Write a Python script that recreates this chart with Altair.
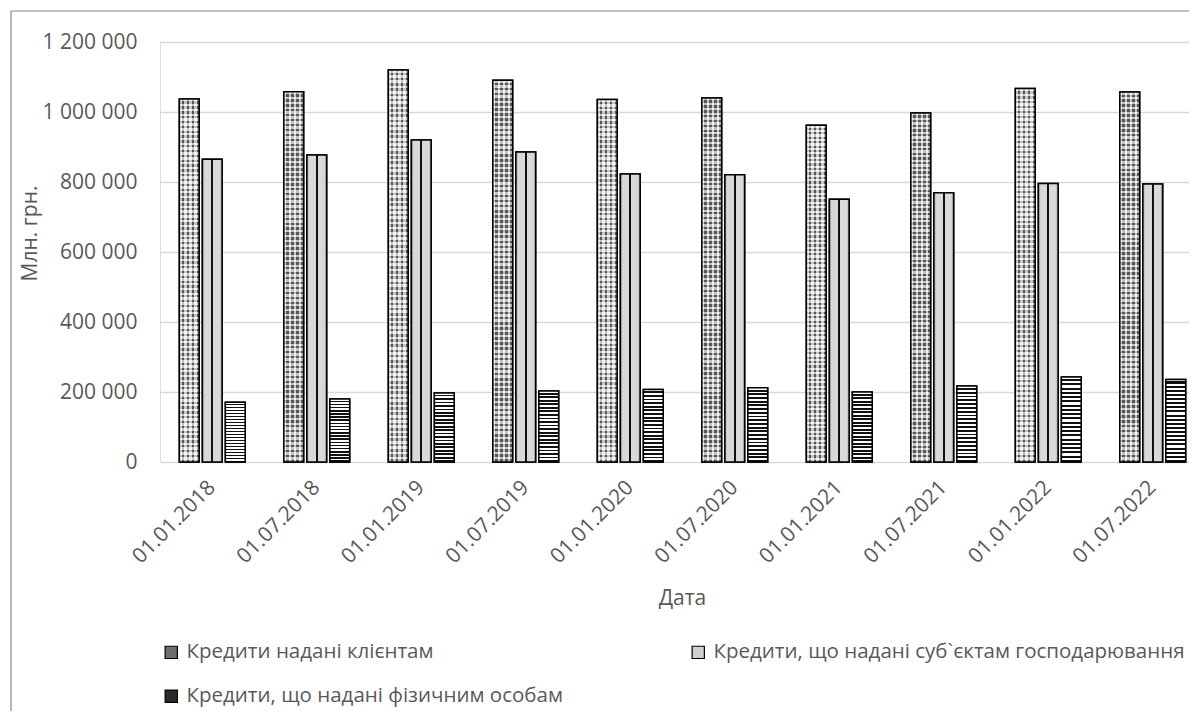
import altair as alt
import pandas as pd

dates = ["01.01.2018", "01.07.2018", "01.01.2019", "01.07.2019", "01.01.2020",
         "01.07.2020", "01.01.2021", "01.07.2021", "01.01.2022", "01.07.2022"]
series = ["Кредити надані клієнтам",
          "Кредити, що надані суб`єктам господарювання",
          "Кредити, що надані фізичним особам"]
clients = [1037000, 1058000, 1120000, 1091000, 1036000, 1040000, 962000, 997000, 1067000, 1057000]
corp = [865000, 877000, 920000, 886000, 823000, 821000, 751000, 769000, 796000, 794000]
phys = [171000, 180000, 197000, 203000, 207000, 212000, 200000, 217000, 243000, 236000]

rows = []
for i, d in enumerate(dates):
    for s, vals in zip(series, [clients, corp, phys]):
        rows.append({"date": d, "series": s, "value": vals[i]})
df = pd.DataFrame(rows)

FONT = "Open Sans"
GREY = "#595959"
W, H = 1029, 420
FS = 21
LFS = 20.5


def stripes(c1, c2, n, horizontal):
    stops = []
    for k in range(n):
        a, b = k / n, (k + 0.5) / n
        e = (k + 1) / n
        stops += [alt.GradientStop(color=c1, offset=a), alt.GradientStop(color=c1, offset=b),
                  alt.GradientStop(color=c2, offset=b), alt.GradientStop(color=c2, offset=e)]
    if horizontal:
        return alt.Gradient(gradient="linear", stops=stops, x1=0, x2=0, y1=0, y2=1)
    return alt.Gradient(gradient="linear", stops=stops, x1=0, x2=1, y1=0, y2=0)


corp_grad = alt.Gradient(gradient="linear", x1=0, x2=1, y1=0, y2=0, stops=[
    alt.GradientStop(color="#9a9a9a", offset=0), alt.GradientStop(color="#d9d9d9", offset=0.12),
    alt.GradientStop(color="#d9d9d9", offset=0.44), alt.GradientStop(color="#111111", offset=0.44),
    alt.GradientStop(color="#111111", offset=0.56), alt.GradientStop(color="#d9d9d9", offset=0.56),
    alt.GradientStop(color="#d9d9d9", offset=0.88), alt.GradientStop(color="#9a9a9a", offset=1)])

x_enc = alt.X("date:N", sort=dates,
              scale=alt.Scale(paddingInner=0.37, paddingOuter=0.185, range=[0, 1045]),
              axis=alt.Axis(title="Дата", labelAngle=-45, labelFontSize=FS, labelColor=GREY,
                            labelFont=FONT, titleFont=FONT, titleFontSize=FS, titleColor=GREY,
                            titleFontWeight="normal", ticks=False, domain=False, grid=False,
                            labelBaseline="middle", labelAlign="right",
                            labelPadding=22, titlePadding=21, titleX=522))
y_enc = alt.Y("value:Q", scale=alt.Scale(domain=[0, 1200000], nice=False),
              axis=alt.Axis(title="Млн. грн.", values=[0, 200000, 400000, 600000, 800000, 1000000, 1200000],
                            labelExpr="replace(format(datum.value, ','), regexp(',', 'g'), ' ')",
                            labelFontSize=FS, labelColor=GREY, labelFont=FONT, titleFont=FONT,
                            titleFontSize=FS, titleColor=GREY, titleFontWeight="normal",
                            ticks=False, domain=False, gridColor="#d9d9d9", gridWidth=1.3,
                            labelPadding=23, titleX=-130, titleY=191, titleAngle=270,
                            titleBaseline="middle", titleAlign="center"))
xo_enc = alt.XOffset("series:N", sort=series, scale=alt.Scale(domain=series, paddingInner=0.14))

base = alt.Chart(df).mark_bar(stroke="black", strokeWidth=1.5).encode(
    x=x_enc, y=y_enc, xOffset=xo_enc,
    color=alt.Color("series:N", sort=series,
                    scale=alt.Scale(domain=series, range=["#6e6e6e", "#d0d0d0", "#2a2a2a"]),
                    legend=alt.Legend(orient="none", legendX=1, legendY=600, columns=2,
                                      direction="horizontal",
                                      columnPadding=125, rowPadding=23, title=None,
                                      symbolType="square", symbolSize=150,
                                      symbolStrokeColor="black", symbolStrokeWidth=1.2,
                                      labelFontSize=LFS, labelFont=FONT, labelColor=GREY,
                                      labelLimit=0, labelOffset=5)))


def overlay(name, fill):
    return alt.Chart(df).transform_filter(alt.datum.series == name).mark_bar(
        fill=fill, stroke="black", strokeWidth=1.5).encode(x=x_enc, y=y_enc, xOffset=xo_enc)


cl1 = alt.Chart(df).transform_filter(alt.datum.series == series[0]).mark_bar(
    fill=stripes("#e6e6e6", "#666666", 4, False)).encode(x=x_enc, y=y_enc, xOffset=xo_enc)
cl2 = alt.Chart(df).transform_filter(alt.datum.series == series[0]).mark_bar(
    fill=stripes("rgba(255,255,255,0.6)", "rgba(0,0,0,0.15)", 75, True),
    stroke="black", strokeWidth=1.5).encode(x=x_enc, y=y_enc, xOffset=xo_enc)
co = overlay(series[1], corp_grad)
ph = overlay(series[2], stripes("#ffffff", "#111111", 20, True))

frame_df = pd.DataFrame({"k": [0]})
left = alt.Chart(frame_df).mark_rule(color="#868686", strokeWidth=1.2).encode(
    x=alt.value(-149), y=alt.value(-31), y2=alt.value(H + 300))
top = alt.Chart(frame_df).mark_rule(color="#868686", strokeWidth=1.2).encode(
    x=alt.value(-149), x2=alt.value(W + 100), y=alt.value(-31))

chart = alt.layer(base, cl1, cl2, co, ph, left, top).properties(
    width=W, height=H,
    autosize=alt.AutoSizeParams(type="none"),
    padding={"left": 152, "top": 34, "right": 0, "bottom": 249},
).configure_view(stroke=None).configure(font=FONT)

chart.save("out.html", embed_options={"renderer": "svg", "actions": False})
